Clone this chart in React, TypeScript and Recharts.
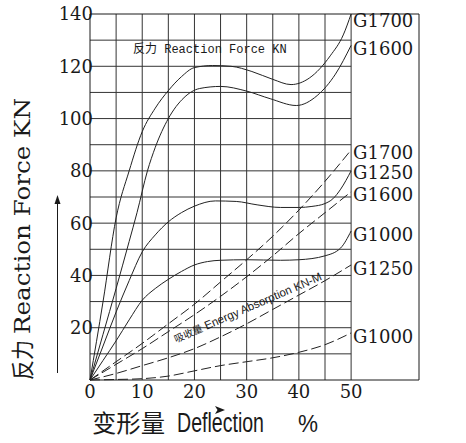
import { LineChart, Line, XAxis, YAxis, ReferenceLine } from 'recharts'

// axis ticks and grid positions
const xTicks = [0, 10, 20, 30, 40, 50]
const yTicks = [20, 40, 60, 80, 100, 120, 140]
const xGrid = [5, 10, 15, 20, 25, 30, 35, 40, 45, 50]
const yGrid = [10, 20, 30, 40, 50, 60, 70, 80, 90, 100, 110, 120, 130]

// reaction force (KN), solid curves
const g1700ForceX = [0, 2.5, 5, 7.5, 10, 12.5, 15, 17.5, 20, 23.5, 27, 31, 35, 38.5, 42, 46, 48.5, 50]
const g1700ForceY = [0, 30, 62, 80, 95, 104, 110.7, 116, 119.5, 120.3, 120, 118, 115, 113, 115.5, 124, 132, 140]
const g1600ForceX = [0, 2.5, 5, 7.5, 9, 11, 12.5, 15, 18, 21, 25, 30, 34.5, 39.5, 43.5, 47, 50]
const g1600ForceY = [0, 17.5, 35, 53, 64, 80, 89, 100, 108, 111.5, 112.3, 110.5, 107.6, 105, 108.8, 117, 128]
const g1250ForceX = [0, 2.5, 5, 7.5, 10, 12.5, 15, 17.5, 20, 24, 28, 32, 36.5, 40, 42.5, 45, 46.5, 48, 50]
const g1250ForceY = [0, 13, 26, 38, 49, 55.5, 60.5, 64, 66.5, 68.5, 68.3, 67, 66, 66, 66.4, 67.5, 69.3, 73, 80]
const g1000ForceX = [0, 2.5, 5, 7.5, 10, 12.5, 15, 17.5, 20, 22.5, 25, 30, 36.5, 40, 45, 48, 50]
const g1000ForceY = [0, 7.5, 15, 23, 30.5, 35, 38.5, 41.5, 44, 45.3, 45.8, 46, 45.8, 46, 47.5, 50.5, 57]

// energy absorption (KN-M), dashed curves
const deflection = [0, 5, 10, 15, 20, 25, 30, 35, 40, 45, 50]
const g1700Energy = [0, 7, 14, 21.5, 29, 37.5, 46, 55, 65, 76, 88]
const g1600Energy = [0, 6, 12, 18.5, 25, 32, 39.5, 47.5, 56, 64, 72]
const g1250Energy = [0, 2.5, 5.5, 8.5, 12, 16.5, 21.5, 27, 32.5, 38, 44]
const g1000Energy = [0, 0.2, 0.5, 1.5, 3.5, 5.5, 7, 8.5, 10.6, 13.5, 18]

const toPoints = (xs: number[], ys: number[]) => xs.map((x, i) => ({ x, y: ys[i] }))

const series = [
  { key: 'f1700', name: 'G1700', data: toPoints(g1700ForceX, g1700ForceY), dashed: false, dy: 6 },
  { key: 'f1600', name: 'G1600', data: toPoints(g1600ForceX, g1600ForceY), dashed: false, dy: 3 },
  { key: 'f1250', name: 'G1250', data: toPoints(g1250ForceX, g1250ForceY), dashed: false, dy: 2 },
  { key: 'f1000', name: 'G1000', data: toPoints(g1000ForceX, g1000ForceY), dashed: false, dy: 4 },
  { key: 'e1700', name: 'G1700', data: toPoints(deflection, g1700Energy), dashed: true, dy: 3 },
  { key: 'e1600', name: 'G1600', data: toPoints(deflection, g1600Energy), dashed: true, dy: 3 },
  { key: 'e1250', name: 'G1250', data: toPoints(deflection, g1250Energy), dashed: true, dy: 4 },
  { key: 'e1000', name: 'G1000', data: toPoints(deflection, g1000Energy), dashed: true, dy: 4 },
]

const SERIF = 'DejaVu Serif'
const MONO = 'Liberation Mono'
const CJK = 'Noto Sans CJK SC'
const INK = '#1a1a1a'
const GRID = '#333'

const endLabel = (name: string, dy: number, last: number) => (props: any) => {
  if (props.index !== last) return null
  return (
    <text x={props.x + 2} y={props.y + dy} dominantBaseline="central" fontFamily={SERIF} fontSize={18} fill={INK}>
      {name}
    </text>
  )
}

const xTick = (props: any) => (
  <text x={props.x} y={props.y} dy="0.74em" textAnchor="middle" fontFamily={SERIF} fontSize={18} fill={INK}>
    {props.payload.value}
  </text>
)
const leftTick = (props: any) => (
  <text x={props.x} y={props.y} dy="0.36em" textAnchor="end" fontFamily={SERIF} fontSize={18} fill={INK}>
    {props.payload.value}
  </text>
)
const rightTick = (props: any) => (
  <text x={props.x} y={props.y + 3} dy="0.36em" textAnchor="middle" fontFamily={SERIF} fontSize={15} fill={INK}>
    {props.payload.value}
  </text>
)

function App() {
  return (
    <div style={{ position: 'absolute', left: 0, top: 0, width: 466, height: 443, background: '#fff' }}>
      <LineChart width={466} height={443} margin={{ top: 14, right: 0, bottom: 0, left: 0 }}>
        <XAxis
          type="number"
          dataKey="x"
          domain={[0, 63]}
          ticks={xTicks}
          interval={0}
          height={63}
          tickLine={false}
          tickSize={0}
          tickMargin={5}
          axisLine={{ stroke: INK }}
          tick={xTick}
        />
        <YAxis
          type="number"
          domain={[0, 140]}
          ticks={yTicks}
          interval={0}
          width={90}
          tickLine={false}
          tickSize={0}
          tickMargin={-3}
          axisLine={{ stroke: INK }}
          tick={leftTick}
        />
        <YAxis
          yAxisId="right"
          orientation="right"
          type="number"
          domain={[0, 140]}
          ticks={yTicks}
          interval={0}
          width={47}
          tickLine={false}
          tickSize={0}
          tickMargin={27}
          axisLine={{ stroke: INK }}
          tick={rightTick}
        />
        {yGrid.map((v) => (
          <ReferenceLine key={'h' + v} segment={[{ x: 0, y: v }, { x: 50, y: v }]} stroke={GRID} />
        ))}
        {xGrid.map((v) => (
          <ReferenceLine key={'v' + v} x={v} stroke={GRID} />
        ))}
        <ReferenceLine y={140} stroke={INK} />
        {series.map((s) => (
          <Line
            key={s.key}
            data={s.data}
            dataKey="y"
            type="monotone"
            stroke="#222"
            strokeWidth={1}
            strokeDasharray={s.dashed ? '10 4' : undefined}
            dot={false}
            activeDot={false}
            isAnimationActive={false}
            label={endLabel(s.name, s.dy, s.data.length - 1)}
          />
        ))}
      </LineChart>
      <svg
        width={466}
        height={443}
        style={{ position: 'absolute', left: 0, top: 0, pointerEvents: 'none' }}
      >
        {/* y axis title */}
        <text transform="translate(31, 380) rotate(-90)" fontFamily={CJK} fontSize={23} fill={INK} textLength={40} lengthAdjust="spacingAndGlyphs">
          反力
        </text>
        <text transform="translate(30, 334) rotate(-90)" fontFamily={SERIF} fontSize={22} fill={INK} textLength={236} lengthAdjust="spacingAndGlyphs">
          Reaction Force KN
        </text>
        <line x1={57.5} y1={373} x2={57.5} y2={202} stroke={INK} strokeWidth={1} />
        <polygon points="57.5,195 54.5,204 60.5,204" fill={INK} />

        {/* x axis title */}
        <text x={92} y={432} fontFamily={CJK} fontSize={24} fill={INK} textLength={73} lengthAdjust="spacingAndGlyphs">
          变形量
        </text>
        <text x={177} y={432} fontFamily="Liberation Sans" fontSize={27} fill={INK} textLength={87} lengthAdjust="spacingAndGlyphs">
          Deflection
        </text>
        <text x={298} y={432} fontFamily="Liberation Sans" fontSize={24} fill={INK} textLength={20} lengthAdjust="spacingAndGlyphs">
          %
        </text>
        <polygon points="215,406 225,410 215,414 217.5,410" fill={INK} />

        {/* chart annotations */}
        <text x={133} y={53} fontSize={12} fill={INK}>
          <tspan fontFamily={CJK}>反力</tspan>
          <tspan fontFamily={MONO}> Reaction Force KN</tspan>
        </text>
        <text transform="translate(176, 343) rotate(-23.4)" fontSize={11.5} fill={INK}>
          <tspan fontFamily={CJK} fontSize={10}>吸收量</tspan>
          <tspan fontFamily="Liberation Sans"> Energy Absorption KN-M</tspan>
        </text>
      </svg>
    </div>
  )
}

export default App
